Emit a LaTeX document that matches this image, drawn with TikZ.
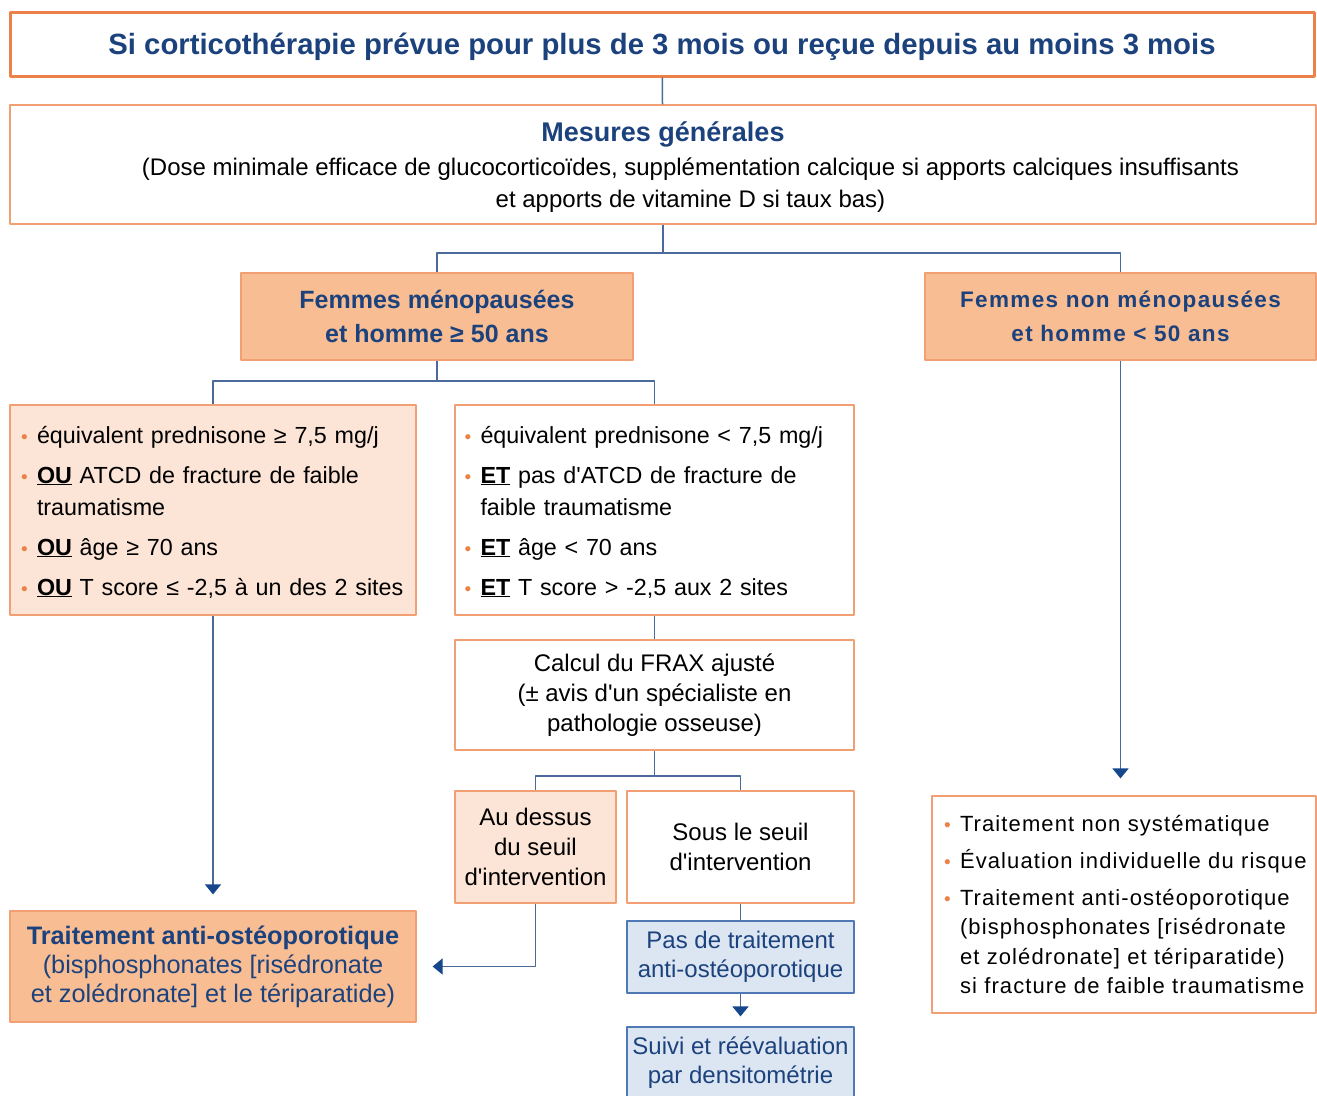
\documentclass[tikz,border=0pt]{standalone}
\usepackage{fontspec}
\setmainfont{Liberation Sans}[Ligatures=TeXOff]
\usetikzlibrary{arrows.meta}
\definecolor{bleufonce}{RGB}{28,66,125}
\definecolor{bleutrait}{RGB}{74,106,156}
\definecolor{bleufleche}{RGB}{22,70,140}
\definecolor{orangevif}{RGB}{236,130,72}
\definecolor{orangeclair}{RGB}{242,160,115}
\definecolor{peche}{RGB}{248,189,146}
\definecolor{pechepale}{RGB}{252,228,214}
\definecolor{bleupale}{RGB}{220,230,242}
\definecolor{bleucadre}{RGB}{80,120,180}
\newcommand{\puce}{\makebox[16pt][l]{\textcolor{orangevif}{\fontsize{19}{19}\selectfont •}}}
\newcommand{\mot}[1]{\underline{\textbf{#1}}}
\begin{document}
\begin{tikzpicture}[x=1pt,y=-1pt,line join=round]
\tikzset{every node/.style={inner sep=0pt,font=\fontsize{24}{30}\selectfont},
  boite/.style={draw=orangeclair,line width=1.2pt,align=center},
  tete/.style={boite,fill=peche,text=bleufonce,font=\bfseries\fontsize{25}{34}\selectfont},
  liste/.style={boite,align=left,font=\fontsize{23.3}{32}\selectfont},
  bleue/.style={draw=bleucadre,line width=1.2pt,fill=bleupale,text=bleufonce,align=center,minimum width=227,font=\fontsize{24}{29}\selectfont},
  trait/.style={draw=bleutrait,line width=1.5pt},
  fleche/.style={trait,-{Triangle[width=16pt,length=10pt,color=bleufleche]}}}
\useasboundingbox[fill=white] (0,0) rectangle (1317,1095);
% en-tete
\node[draw=orangevif,line width=3pt,minimum width=1304,minimum height=64,text depth=0pt,text=bleufonce,font=\bfseries\fontsize{29.3}{32}\selectfont] (cortico) at (662,44) {Si corticothérapie prévue pour plus de 3 mois ou reçue depuis au moins 3 mois};
\node[boite,minimum width=1306,minimum height=119,font=\fontsize{24}{32}\selectfont] (mesures) at (663,164.5) {\rule{0pt}{25pt}\textcolor{bleufonce}{\bfseries\fontsize{27}{30}\selectfont Mesures générales}\\[2pt]
  \hspace*{55pt}(Dose minimale efficace de glucocorticoïdes, supplémentation calcique si apports calciques insuffisants\\
  \hspace*{55pt}et apports de vitamine D si taux bas)};
% deux populations
\node[tete,minimum width=392,minimum height=87] (meno) at (437,316.5) {Femmes ménopausées\\et homme ≥ 50 ans};
\node[tete,minimum width=391,minimum height=87,font=\bfseries\fontsize{22.5}{34}\selectfont\addfontfeature{LetterSpace=6}] (nonmeno) at (1120.5,316.5) {Femmes non ménopausées\\et homme < 50 ans};
\node[liste,fill=pechepale,minimum width=406,minimum height=210,text width=384] (critA) at (213,510) {\rule{0pt}{21pt}\puce équivalent prednisone ≥ 7,5 mg/j\\[8pt]
  \puce\mot{OU} ATCD de fracture de faible\\
  \hspace*{16pt}traumatisme\\[8pt]
  \puce\mot{OU} âge ≥ 70 ans\\[8pt]
  \puce\mot{OU} T score ≤ -2,5 à un des 2 sites};
\node[liste,fill=white,minimum width=399,minimum height=210,text width=380] (critB) at (654.5,510) {\rule{0pt}{21pt}\puce équivalent prednisone < 7,5 mg/j\\[8pt]
  \puce\mot{ET} pas d'ATCD de fracture de\\
  \hspace*{16pt}faible traumatisme\\[8pt]
  \puce\mot{ET} âge < 70 ans\\[8pt]
  \puce\mot{ET} T score > -2,5 aux 2 sites};
\node[boite,minimum width=399,minimum height=110] (frax) at (654.5,695) {Calcul du FRAX ajusté\\(± avis d'un spécialiste en\\pathologie osseuse)};
\node[boite,fill=pechepale,minimum width=161,minimum height=112] (dessus) at (535.5,847) {Au dessus\\du seuil\\d'intervention};
\node[boite,minimum width=227,minimum height=112] (sous) at (740.5,847) {Sous le seuil\\d'intervention};
\node[bleue,minimum height=72] (pastt) at (740.5,957) {Pas de traitement\\anti-ostéoporotique};
\node[bleue,minimum height=71] (suivi) at (740.5,1062.5) {Suivi et réévaluation\\par densitométrie};
\node[boite,fill=peche,text=bleufonce,minimum width=406,minimum height=111,font=\fontsize{25.3}{29}\selectfont] (traitA) at (213,966.5) {{\bfseries Traitement anti-ostéoporotique}\\(bisphosphonates [risédronate\\et zolédronate] et le tériparatide)};
\node[liste,minimum width=384,minimum height=217,text width=360,font=\fontsize{22}{29.5}\selectfont\addfontfeature{LetterSpace=5}] (traitB) at (1124,904.5) {\puce Traitement non systématique\\[7.5pt]
  \puce Évaluation individuelle du risque\\[7.5pt]
  \puce Traitement anti-ostéoporotique\\
  \hspace*{16pt}(bisphosphonates [risédronate\\
  \hspace*{16pt}et zolédronate] et tériparatide)\\
  \hspace*{16pt}si fracture de faible traumatisme};
% liaisons
\coordinate (j1) at (663,253);
\coordinate (j2) at (437,381);
\coordinate (j3) at (654.5,776);
\draw[trait] (cortico) -- (mesures);
\draw[trait] (mesures.south) -- (j1) -| (meno.north);
\draw[trait] (j1) -| (nonmeno.north);
\draw[trait] (meno.south) -- (j2) -| (critA.north);
\draw[trait] (j2) -| (critB.north);
\draw[trait] (critB.south) -- (frax.north);
\draw[trait] (frax.south) -- (j3) -| (dessus.north);
\draw[trait] (j3) -| (sous.north);
\draw[trait] (sous.south) -- (pastt.north);
\draw[fleche,shorten >=16pt] (critA.south) -- (traitA.north);
\draw[fleche,shorten >=16pt] (dessus.south) |- (traitA.east);
\draw[fleche,shorten >=10pt] (pastt.south) -- (suivi.north);
\draw[fleche,shorten >=17pt] (nonmeno.south) -- (nonmeno.south |- traitB.north);
\end{tikzpicture}
\end{document}
